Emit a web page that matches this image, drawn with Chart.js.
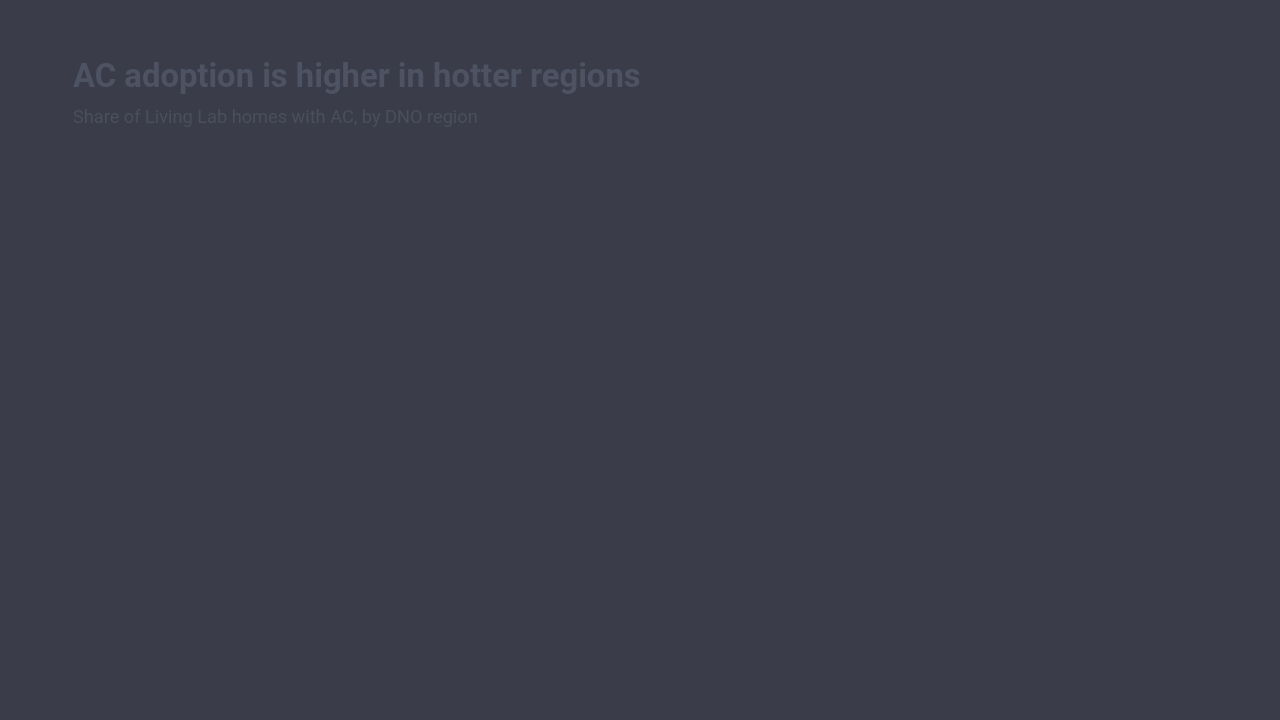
<!DOCTYPE html>
<html>
<head>
<meta charset="utf-8">
<script src="https://cdn.jsdelivr.net/npm/chart.js@4/dist/chart.umd.min.js"></script>
<style>
    html, body { margin: 0; padding: 0; background: #3a3d49; }
    #wrap { position: relative; width: 1280px; height: 720px; }
</style>
</head>
<body>
<div id="wrap"><canvas id="grafico"></canvas></div>
<script>
// Datos del gráfico: en la imagen de referencia no se ve ninguna marca todavía
const regiones = [];
const porcentajeAC = [];

const titulo = 'AC adoption is higher in hotter regions';
const subtitulo = 'Share of Living Lab homes with AC, by DNO region';

const ctx = document.getElementById('grafico').getContext('2d');

new Chart(ctx, {
    type: 'bar',
    data: {
        labels: regiones,
        datasets: [
            {
                label: 'Homes with AC (%)',
                data: porcentajeAC,
                backgroundColor: '#4f5565',
            },
        ],
    },
    options: {
        responsive: true,
        maintainAspectRatio: false,
        animation: false,
        layout: {
            padding: { top: 59, left: 73, right: 60, bottom: 30 },
        },
        scales: {
            x: { display: false },
            y: { display: false },
        },
        plugins: {
            legend: { display: false },
            tooltip: { enabled: false },
            title: {
                display: true,
                text: titulo,
                align: 'start',
                color: '#4e5363',
                font: { family: 'Roboto', size: 32.8, weight: 'bold', lineHeight: 1.2 },
                padding: { top: 0, bottom: 7 },
            },
            subtitle: {
                display: true,
                text: subtitulo,
                align: 'start',
                color: '#4a4e5d',
                font: { family: 'Roboto', size: 18.2, weight: 'normal', lineHeight: 1.2 },
                padding: { top: 2, bottom: 10 },
            },
        },
    },
});
</script>
</body>
</html>
